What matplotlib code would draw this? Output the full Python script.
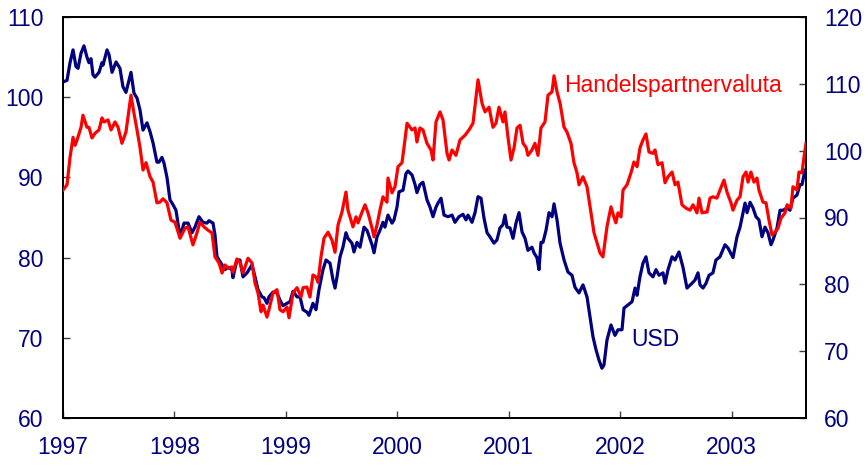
import matplotlib
matplotlib.use("Agg")
import matplotlib.pyplot as plt

plt.rcParams['font.family'] = ['Liberation Sans', 'DejaVu Sans']

# USD (left axis) - decimal year, index value
usd_t = [1997.000, 1997.036, 1997.063, 1997.090, 1997.117, 1997.135, 1997.162, 1997.188, 1997.215, 1997.233,
         1997.251, 1997.269, 1997.287, 1997.323, 1997.350, 1997.359, 1997.395, 1997.413, 1997.440, 1997.476,
         1997.511, 1997.538, 1997.565, 1997.610, 1997.637, 1997.664, 1997.691, 1997.718, 1997.754, 1997.781,
         1997.808, 1997.843, 1997.861, 1997.888, 1997.906, 1997.933, 1997.960, 1997.987, 1998.014, 1998.050,
         1998.086, 1998.122, 1998.158, 1998.184, 1998.220, 1998.256, 1998.292, 1998.310, 1998.346, 1998.364,
         1998.382, 1998.427, 1998.454, 1998.481, 1998.516, 1998.525, 1998.561, 1998.588, 1998.615, 1998.651,
         1998.696, 1998.723, 1998.750, 1998.786, 1998.804, 1998.830, 1998.848, 1998.884, 1998.920, 1998.947,
         1998.974, 1999.010, 1999.037, 1999.064, 1999.100, 1999.127, 1999.154, 1999.189, 1999.207, 1999.243,
         1999.270, 1999.297, 1999.333, 1999.360, 1999.396, 1999.423, 1999.441, 1999.459, 1999.486, 1999.512,
         1999.539, 1999.557, 1999.593, 1999.611, 1999.638, 1999.665, 1999.701, 1999.728, 1999.773, 1999.791,
         1999.818, 1999.844, 1999.871, 1999.889, 1999.916, 1999.952, 1999.970, 1999.997, 2000.015, 2000.051,
         2000.078, 2000.096, 2000.132, 2000.159, 2000.176, 2000.203, 2000.230, 2000.266, 2000.293, 2000.320,
         2000.347, 2000.365, 2000.392, 2000.419, 2000.455, 2000.491, 2000.517, 2000.553, 2000.589, 2000.616,
         2000.634, 2000.670, 2000.697, 2000.724, 2000.751, 2000.778, 2000.805, 2000.831, 2000.867, 2000.894,
         2000.921, 2000.948, 2000.966, 2000.984, 2001.011, 2001.038, 2001.065, 2001.092, 2001.119, 2001.146,
         2001.172, 2001.208, 2001.226, 2001.253, 2001.271, 2001.289, 2001.307, 2001.334, 2001.361, 2001.388,
         2001.406, 2001.433, 2001.460, 2001.496, 2001.531, 2001.567, 2001.594, 2001.630, 2001.666, 2001.702,
         2001.729, 2001.756, 2001.783, 2001.810, 2001.836, 2001.854, 2001.881, 2001.917, 2001.953, 2001.980,
         2002.016, 2002.034, 2002.070, 2002.106, 2002.133, 2002.151, 2002.177, 2002.204, 2002.231, 2002.258,
         2002.294, 2002.321, 2002.348, 2002.384, 2002.402, 2002.429, 2002.465, 2002.492, 2002.527, 2002.563,
         2002.599, 2002.644, 2002.671, 2002.698, 2002.716, 2002.743, 2002.770, 2002.797, 2002.832, 2002.859,
         2002.895, 2002.940, 2002.967, 2003.012, 2003.048, 2003.075, 2003.102, 2003.120, 2003.138, 2003.165,
         2003.191, 2003.218, 2003.245, 2003.272, 2003.299, 2003.326, 2003.353, 2003.371, 2003.407, 2003.434,
         2003.461, 2003.497, 2003.523, 2003.550, 2003.586, 2003.613, 2003.631, 2003.658]
usd_v = [101.9, 102.1, 104.3, 105.9, 103.8, 103.6, 105.5, 106.4, 105.0, 104.3,
         104.8, 102.8, 102.5, 103.1, 104.3, 104.0, 105.9, 105.3, 103.1, 104.4,
         103.6, 101.3, 100.6, 103.1, 100.5, 99.9, 98.4, 95.9, 96.8, 95.7,
         94.3, 91.9, 91.9, 92.5, 91.8, 90.0, 87.2, 86.6, 85.9, 82.6,
         84.3, 84.3, 83.1, 83.8, 85.1, 84.4, 84.3, 84.6, 84.3, 82.8,
         80.1, 79.1, 78.5, 78.8, 78.5, 77.5, 79.7, 79.7, 77.6, 78.1,
         79.1, 77.6, 76.0, 75.1, 75.0, 74.3, 75.1, 75.7, 75.6, 74.7,
         74.0, 74.3, 74.5, 75.8, 75.1, 75.1, 73.5, 73.2, 72.8, 74.3,
         73.5, 76.0, 78.5, 79.7, 79.3, 77.2, 76.2, 77.6, 80.1, 81.3,
         83.1, 82.4, 81.8, 80.7, 81.9, 81.3, 83.8, 83.4, 81.6, 80.6,
         82.6, 83.4, 84.4, 83.8, 85.3, 84.3, 84.7, 86.3, 88.2, 88.4,
         90.5, 90.8, 90.3, 89.1, 88.1, 89.1, 89.4, 87.2, 86.3, 85.1,
         86.3, 86.8, 87.4, 85.3, 85.1, 85.3, 84.4, 85.1, 85.4, 84.7,
         85.3, 84.4, 85.6, 87.6, 87.4, 84.9, 83.1, 82.6, 81.8, 82.2,
         83.7, 84.1, 85.3, 83.8, 83.7, 82.4, 84.3, 85.6, 83.2, 82.4,
         80.9, 81.3, 80.6, 80.0, 78.5, 81.9, 81.9, 83.4, 85.6, 85.1,
         86.7, 84.7, 81.8, 79.7, 78.2, 77.8, 76.3, 75.6, 76.6, 75.1,
         72.6, 70.1, 68.5, 67.2, 66.2, 66.6, 69.7, 71.6, 70.3, 71.0,
         71.0, 73.7, 74.1, 74.5, 76.2, 75.3, 77.6, 79.3, 80.1, 78.1,
         77.6, 78.5, 77.8, 78.1, 76.8, 78.5, 80.1, 79.7, 80.7, 78.8,
         76.2, 76.8, 77.2, 78.1, 76.6, 76.2, 76.8, 77.8, 78.1, 79.7,
         80.1, 81.6, 81.2, 80.0, 82.6, 83.8, 85.6, 86.8, 85.6, 86.9,
         86.2, 85.1, 84.7, 82.6, 83.8, 83.1, 81.6, 82.2, 83.7, 85.9,
         85.9, 86.2, 85.9, 87.4, 87.8, 89.1, 89.1, 90.9]

# Handelspartnervaluta (right axis)
hpv_t = [1997.000, 1997.036, 1997.063, 1997.090, 1997.108, 1997.126, 1997.162, 1997.179, 1997.215, 1997.233,
         1997.260, 1997.287, 1997.323, 1997.350, 1997.368, 1997.404, 1997.431, 1997.467, 1997.494, 1997.529,
         1997.565, 1997.610, 1997.637, 1997.664, 1997.691, 1997.718, 1997.745, 1997.781, 1997.808, 1997.843,
         1997.870, 1997.897, 1997.933, 1997.969, 1998.005, 1998.050, 1998.095, 1998.122, 1998.166, 1998.202,
         1998.229, 1998.265, 1998.301, 1998.337, 1998.364, 1998.400, 1998.427, 1998.454, 1998.481, 1998.516,
         1998.525, 1998.561, 1998.588, 1998.615, 1998.660, 1998.696, 1998.723, 1998.750, 1998.777, 1998.795,
         1998.830, 1998.848, 1998.884, 1998.920, 1998.947, 1998.974, 1999.010, 1999.028, 1999.064, 1999.100,
         1999.136, 1999.154, 1999.189, 1999.216, 1999.243, 1999.270, 1999.288, 1999.315, 1999.342, 1999.378,
         1999.414, 1999.441, 1999.468, 1999.503, 1999.539, 1999.557, 1999.602, 1999.629, 1999.647, 1999.683,
         1999.710, 1999.737, 1999.773, 1999.791, 1999.818, 1999.844, 1999.871, 1999.907, 1999.916, 1999.952,
         1999.979, 2000.006, 2000.042, 2000.060, 2000.087, 2000.132, 2000.159, 2000.176, 2000.203, 2000.230,
         2000.266, 2000.302, 2000.320, 2000.347, 2000.383, 2000.410, 2000.446, 2000.464, 2000.491, 2000.526,
         2000.562, 2000.607, 2000.643, 2000.679, 2000.706, 2000.724, 2000.760, 2000.787, 2000.823, 2000.858,
         2000.885, 2000.912, 2000.948, 2000.966, 2000.993, 2001.020, 2001.047, 2001.074, 2001.101, 2001.128,
         2001.155, 2001.172, 2001.208, 2001.235, 2001.262, 2001.289, 2001.325, 2001.352, 2001.388, 2001.406,
         2001.433, 2001.460, 2001.496, 2001.522, 2001.558, 2001.585, 2001.612, 2001.630, 2001.666, 2001.702,
         2001.738, 2001.765, 2001.792, 2001.819, 2001.845, 2001.881, 2001.917, 2001.943, 2001.961, 2001.980,
         2002.007, 2002.025, 2002.061, 2002.097, 2002.123, 2002.151, 2002.177, 2002.204, 2002.231, 2002.258,
         2002.294, 2002.312, 2002.339, 2002.375, 2002.402, 2002.429, 2002.465, 2002.492, 2002.518, 2002.554,
         2002.590, 2002.626, 2002.653, 2002.689, 2002.707, 2002.734, 2002.761, 2002.779, 2002.806, 2002.832,
         2002.868, 2002.895, 2002.931, 2002.958, 2002.994, 2003.012, 2003.048, 2003.075, 2003.102, 2003.129,
         2003.147, 2003.173, 2003.200, 2003.227, 2003.245, 2003.281, 2003.308, 2003.335, 2003.362, 2003.389,
         2003.416, 2003.443, 2003.479, 2003.497, 2003.532, 2003.550, 2003.586, 2003.604, 2003.631, 2003.649,
         2003.667]
hpv_v = [94.1, 94.9, 99.0, 102.0, 100.8, 101.6, 103.5, 105.3, 103.5, 103.5,
         101.9, 102.6, 103.1, 104.9, 104.3, 104.6, 103.1, 104.3, 103.5, 101.1,
         102.8, 108.3, 105.6, 103.1, 100.5, 97.1, 98.2, 96.1, 95.3, 92.2,
         92.3, 92.8, 92.2, 89.6, 89.3, 86.9, 88.4, 88.6, 85.9, 87.7,
         89.3, 88.6, 88.1, 87.7, 84.1, 83.2, 81.7, 82.9, 82.4, 82.6,
         81.8, 83.8, 83.3, 81.7, 83.9, 83.2, 80.2, 78.7, 75.9, 76.9,
         75.1, 76.2, 78.7, 79.2, 76.2, 75.9, 76.6, 75.0, 78.7, 79.5,
         78.1, 79.5, 79.6, 78.1, 81.4, 81.1, 80.3, 84.1, 86.9, 87.8,
         86.6, 84.8, 88.9, 90.8, 93.8, 91.1, 88.6, 90.1, 89.2, 90.8,
         91.9, 90.7, 88.4, 87.1, 88.9, 91.1, 93.1, 92.3, 95.9, 93.7,
         94.6, 97.6, 98.2, 100.5, 104.1, 103.1, 103.4, 101.3, 103.4, 103.1,
         101.1, 100.1, 98.6, 104.3, 105.8, 104.6, 99.6, 98.6, 100.1, 99.3,
         101.6, 102.3, 103.1, 104.1, 108.0, 110.6, 107.1, 105.8, 106.5, 103.5,
         104.1, 106.5, 104.3, 105.8, 102.0, 98.6, 100.4, 103.4, 103.8, 101.1,
         100.5, 99.3, 100.1, 101.1, 99.3, 103.4, 104.3, 108.3, 108.8, 111.2,
         108.8, 107.1, 103.5, 102.8, 101.1, 98.2, 96.7, 94.9, 96.1, 94.6,
         90.7, 87.7, 86.2, 84.7, 84.1, 88.6, 91.6, 90.1, 89.2, 90.7,
         90.1, 94.1, 94.9, 96.7, 98.3, 97.6, 100.4, 101.6, 102.5, 99.8,
         99.6, 100.1, 97.9, 98.2, 95.2, 96.1, 96.8, 94.9, 95.3, 91.9,
         91.4, 91.1, 91.9, 90.7, 92.9, 90.7, 90.8, 90.8, 92.9, 93.1,
         92.9, 94.1, 95.6, 93.8, 92.2, 91.1, 92.6, 93.1, 96.1, 96.8,
         95.3, 96.8, 95.3, 95.9, 94.1, 92.3, 92.2, 89.6, 87.4, 87.8,
         88.4, 89.9, 90.7, 91.9, 91.4, 94.6, 94.1, 96.8, 96.7, 99.0,
         101.1]

years = [1997, 1998, 1999, 2000, 2001, 2002, 2003]
left_ticks = [60, 70, 80, 90, 100, 110]
right_ticks = [60, 70, 80, 90, 100, 110, 120]

NAVY = '#000080'
RED = '#FF0000'
FS = 16.5

fig = plt.figure(figsize=(8.68, 4.67), dpi=100)
ax = fig.add_axes([63/868, 1-418/467, (806-63)/868, (418-17)/467])
ax2 = ax.twinx()

ax.plot(usd_t, usd_v, color=NAVY, lw=2.3, solid_joinstyle='round', zorder=2)
ax2.plot(hpv_t, hpv_v, color=RED, lw=2.3, solid_joinstyle='round', zorder=3)

ax.set_zorder(1)
ax2.set_zorder(2)
ax2.patch.set_visible(False)

ax.set_xlim(1997, 2003.667)
ax.set_ylim(60, 110)
ax2.set_ylim(60, 120)
ax.set_xticks(years)
ax.set_xticklabels([str(y) for y in years])
ax.set_yticks(left_ticks)
ax2.set_yticks(right_ticks)

for a in (ax, ax2):
    for s in a.spines.values():
        s.set_linewidth(1.3)
        s.set_color('black')
    a.tick_params(direction='in', length=5, width=1.0, color='#404040',
                  labelsize=FS, labelcolor=NAVY)
ax.tick_params(axis='y', pad=14)
ax2.tick_params(axis='y', pad=13)
ax.tick_params(axis='x', pad=13)

ax.text(2001.50, 100.6, 'Handelspartnervaluta', color=RED, fontsize=FS,
        ha='left', va='baseline', zorder=5)
ax.text(2002.10, 69.0, 'USD', color=NAVY, fontsize=FS,
        ha='left', va='baseline', zorder=5)

fig.savefig('out.png', dpi=100)
